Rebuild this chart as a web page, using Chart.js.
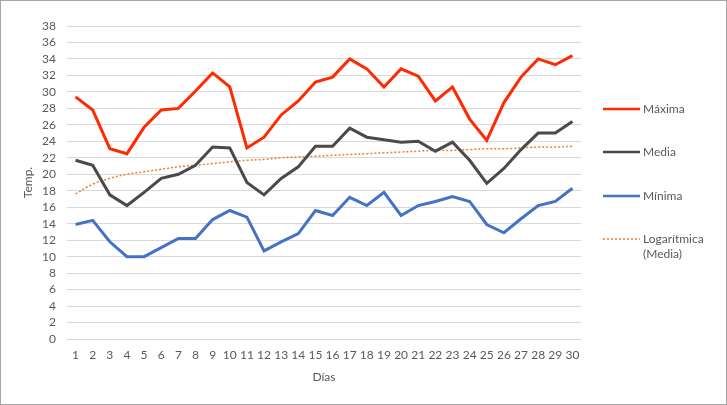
<!DOCTYPE html>
<html>
<head>
<meta charset="utf-8">
<script src="https://cdn.jsdelivr.net/npm/chart.js@4/dist/chart.umd.min.js"></script>
<style>
  html, body { margin: 0; padding: 0; background: #fff; }
  #wrap { width: 727px; height: 405px; box-sizing: border-box; border: 1px solid #a6a6a6; }
</style>
</head>
<body>
<div id="wrap"><canvas id="tempChart" width="725" height="403"></canvas></div>
<script>
var dias = [1, 2, 3, 4, 5, 6, 7, 8, 9, 10, 11, 12, 13, 14, 15,
            16, 17, 18, 19, 20, 21, 22, 23, 24, 25, 26, 27, 28, 29, 30];
var maxima = [29.4, 27.8, 23.1, 22.5, 25.7, 27.8, 28.0, 30.1, 32.3, 30.6, 23.2, 24.5, 27.2, 28.9, 31.2,
              31.8, 34.0, 32.8, 30.6, 32.8, 31.9, 28.9, 30.6, 26.7, 24.1, 28.7, 31.8, 34.0, 33.3, 34.4];
var media = [21.7, 21.1, 17.5, 16.2, 17.8, 19.5, 20.0, 21.1, 23.3, 23.2, 19.0, 17.5, 19.5, 20.9, 23.4,
             23.4, 25.6, 24.5, 24.2, 23.9, 24.0, 22.8, 23.9, 21.7, 18.9, 20.7, 23.0, 25.0, 25.0, 26.4];
var minima = [13.9, 14.4, 11.8, 10.0, 10.0, 11.1, 12.2, 12.2, 14.5, 15.6, 14.8, 10.7, 11.8, 12.8, 15.6,
              15.0, 17.2, 16.2, 17.8, 15.0, 16.2, 16.7, 17.3, 16.7, 13.9, 12.9, 14.6, 16.2, 16.7, 18.3];
// tendencia logaritmica de la media
var tendencia = [17.6, 18.8, 19.5, 20.0, 20.3, 20.6, 20.9, 21.1, 21.3, 21.5, 21.7, 21.8, 22.0, 22.1, 22.2,
                 22.3, 22.4, 22.5, 22.6, 22.7, 22.8, 22.9, 22.9, 23.0, 23.1, 23.1, 23.2, 23.3, 23.3, 23.4];

var textColor = '#595959';
var fontFamily = 'Lato, "Open Sans", sans-serif';

// leyenda dibujada a mano para parecerse a la de Excel
var legendRight = {
    id: 'legendRight',
    afterDraw: function(chart) {
        var ctx = chart.ctx;
        var rows = [108, 151, 195, 238];
        ctx.save();
        chart.data.datasets.forEach(function(ds, i) {
            var y = rows[i];
            ctx.beginPath();
            ctx.strokeStyle = ds.borderColor;
            ctx.lineWidth = ds.borderDash ? 1.5 : 2.5;
            ctx.setLineDash(ds.borderDash || []);
            ctx.moveTo(602, y);
            ctx.lineTo(639, y);
            ctx.stroke();
            ctx.setLineDash([]);
            ctx.fillStyle = textColor;
            ctx.font = '12px ' + fontFamily;
            ctx.textBaseline = 'middle';
            var lines = ds.label.split('\n');
            lines.forEach(function(t, k) {
                ctx.fillText(t, 642, y + k * 15);
            });
        });
        ctx.restore();
    }
};

var tempChart = new Chart(document.getElementById('tempChart'), {
    type: 'line',
    data: {
        labels: dias,
        datasets: [
            { label: 'Máxima', data: maxima, borderColor: '#ff2a00', borderWidth: 3, pointRadius: 0, tension: 0 },
            { label: 'Media', data: media, borderColor: '#4a4a4a', borderWidth: 3, pointRadius: 0, tension: 0 },
            { label: 'Mínima', data: minima, borderColor: '#4472c4', borderWidth: 3, pointRadius: 0, tension: 0 },
            { label: 'Logarítmica\n(Media)', data: tendencia, borderColor: '#ed7d31', borderWidth: 1.5,
              borderDash: [2, 2], pointRadius: 0, tension: 0.4 }
        ]
    },
    options: {
        responsive: false,
        animation: false,
        layout: { padding: { left: 0, top: 25, right: 145, bottom: 0 } },
        plugins: {
            legend: { display: false },
            tooltip: { enabled: false }
        },
        scales: {
            x: {
                offset: true,
                grid: { display: false, drawTicks: false },
                border: { display: false },
                ticks: { color: textColor, font: { family: fontFamily, size: 12 }, padding: 9, maxRotation: 0, autoSkip: false },
                title: { display: true, text: 'Días', color: textColor, font: { family: fontFamily, size: 12 },
                         padding: { top: 4, bottom: 20 } },
                afterFit: function(s) { s.height = 65; }
            },
            y: {
                min: 0,
                max: 38,
                ticks: { stepSize: 2, autoSkip: false, color: textColor, font: { family: fontFamily, size: 12 }, padding: 11 },
                grid: { color: '#d9d9d9', lineWidth: 1, drawTicks: false },
                border: { display: false },
                title: { display: true, text: 'Temp.', color: textColor, font: { family: fontFamily, size: 12 },
                         padding: { top: 20 } },
                afterFit: function(s) { s.width = 66; }
            }
        }
    },
    plugins: [legendRight]
});
</script>
</body>
</html>
